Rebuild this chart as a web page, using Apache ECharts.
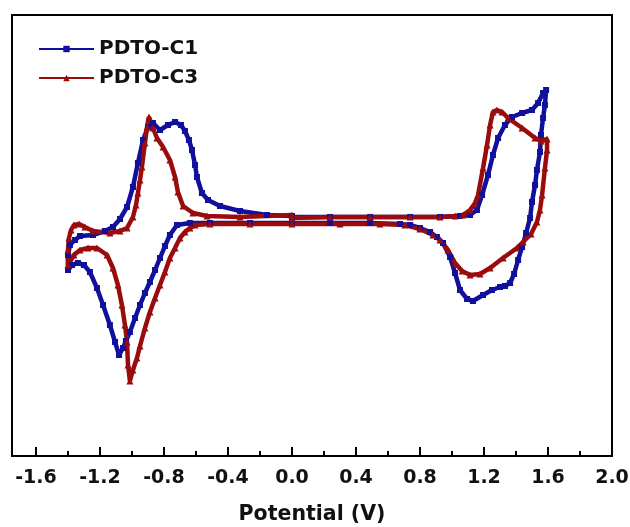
<!DOCTYPE html>
<html>
<head>
<meta charset="utf-8">
<script src="https://cdn.jsdelivr.net/npm/echarts@6/dist/echarts.min.js"></script>
<style>
  html, body { margin: 0; padding: 0; background: #fff; }
  #chart { width: 630px; height: 527px; }
</style>
</head>
<body>
<div id="chart"></div>
<script>
// Cyclic voltammograms: one closed sweep each, 0 V -> 1.6 V -> -1.4 V -> 0 V
const seriesNames = ['PDTO-C1', 'PDTO-C3'];

const c1Potential = [
  0.000, 0.238, 0.488, 0.738, 0.925, 1.050, 1.113, 1.156, 1.188, 1.225,
  1.256, 1.288, 1.331, 1.375, 1.438, 1.500, 1.538, 1.569, 1.588,
  1.581, 1.569, 1.556, 1.550, 1.531, 1.519, 1.500, 1.488, 1.463, 1.438,
  1.413, 1.388, 1.363, 1.331, 1.300, 1.250, 1.194, 1.131, 1.094, 1.050,
  1.019, 0.988, 0.944, 0.906, 0.863, 0.800, 0.738, 0.675, 0.488, 0.238,
  0.000, -0.263, -0.513, -0.638,
  -0.719, -0.763, -0.794, -0.825, -0.856, -0.888, -0.919, -0.950, -0.981, -1.013,
  -1.038, -1.056, -1.081, -1.106, -1.138, -1.181, -1.219, -1.263, -1.300, -1.338,
  -1.375, -1.400,
  -1.400, -1.388, -1.356, -1.325, -1.244, -1.169, -1.119, -1.075, -1.031, -0.994,
  -0.963, -0.931, -0.900, -0.869, -0.825, -0.775, -0.731, -0.694, -0.669, -0.644,
  -0.625, -0.606, -0.594, -0.563, -0.525, -0.450, -0.325, -0.156, 0.000
];
const c1Current = [
  0.15, 0.15, 0.15, 0.15, 0.15, 0.20, 0.25, 0.50, 1.25, 2.25,
  3.25, 4.10, 4.75, 5.15, 5.35, 5.50, 5.85, 6.35, 6.50,
  5.75, 5.10, 4.25, 3.40, 2.50, 1.75, 0.90, 0.10, -0.65, -1.35,
  -2.00, -2.70, -3.15, -3.30, -3.35, -3.50, -3.75, -4.05, -3.95, -3.50,
  -2.65, -1.85, -1.15, -0.85, -0.60, -0.40, -0.25, -0.20, -0.15, -0.15,
  -0.15, -0.15, -0.15, -0.15,
  -0.25, -0.75, -1.30, -1.90, -2.50, -3.10, -3.65, -4.25, -4.90, -5.60,
  -6.05, -6.40, -6.75, -6.10, -5.25, -4.25, -3.40, -2.60, -2.25, -2.15,
  -2.25, -2.50,
  -1.75, -1.25, -1.00, -0.80, -0.75, -0.55, -0.35, 0.05, 0.65, 1.65,
  2.85, 4.00, 4.65, 4.85, 4.50, 4.75, 4.90, 4.75, 4.45, 4.00,
  3.50, 2.75, 2.15, 1.35, 1.00, 0.70, 0.45, 0.25, 0.20
];

const c3Potential = [
  0.000, 0.238, 0.488, 0.738, 0.925, 1.019, 1.069, 1.113, 1.144, 1.163,
  1.194, 1.219, 1.238, 1.256, 1.281, 1.313, 1.350, 1.438, 1.519, 1.556,
  1.594,
  1.594, 1.581, 1.563, 1.550, 1.531, 1.494, 1.444, 1.406, 1.319, 1.238,
  1.175, 1.113, 1.063, 1.019, 0.975, 0.925, 0.881, 0.800, 0.706, 0.550,
  0.300, 0.000, -0.263, -0.513, -0.606, -0.638, -0.669, -0.700, -0.731, -0.763,
  -0.794, -0.825, -0.856, -0.888, -0.919, -0.950, -0.969, -0.994, -1.013,
  -1.025, -1.031, -1.044, -1.063, -1.088, -1.119, -1.156, -1.219, -1.275, -1.325,
  -1.363, -1.400,
  -1.400, -1.394, -1.381, -1.363, -1.331, -1.294, -1.244, -1.138, -1.075, -1.031,
  -0.994, -0.975, -0.963, -0.950, -0.938, -0.919, -0.906, -0.894, -0.869, -0.844,
  -0.806, -0.763, -0.731, -0.713, -0.681, -0.619, -0.531, -0.325, 0.000
];
const c3Current = [
  0.10, 0.15, 0.15, 0.15, 0.15, 0.20, 0.25, 0.50, 0.85, 1.25,
  2.60, 3.75, 4.75, 5.40, 5.50, 5.40, 5.10, 4.60, 4.10, 3.95,
  4.05,
  3.50, 2.60, 1.25, 0.50, -0.10, -0.70, -1.10, -1.40, -1.90, -2.40,
  -2.70, -2.75, -2.55, -2.15, -1.50, -1.00, -0.75, -0.45, -0.25, -0.20,
  -0.20, -0.20, -0.20, -0.20, -0.25, -0.40, -0.60, -0.90, -1.40, -1.90,
  -2.60, -3.25, -3.90, -4.60, -5.40, -6.30, -6.90, -7.50, -8.05,
  -7.25, -6.10, -5.25, -4.25, -3.25, -2.40, -1.75, -1.40, -1.40, -1.50,
  -1.75, -2.25,
  -1.50, -0.90, -0.50, -0.25, -0.20, -0.35, -0.55, -0.65, -0.55, -0.40,
  0.15, 0.75, 1.35, 2.00, 2.65, 3.85, 4.65, 5.15, 4.60, 4.10,
  3.65, 3.00, 2.15, 1.40, 0.70, 0.35, 0.20, 0.15, 0.25
];

const majorTicks = [-1.6, -1.2, -0.8, -0.4, 0.0, 0.4, 0.8, 1.2, 1.6, 2.0];
const minorTicks = [-1.4, -1.0, -0.6, -0.2, 0.2, 0.6, 1.0, 1.4, 1.8];

const pairs = (xs, ys) => xs.map((x, i) => [x, ys[i]]);

const chart = echarts.init(document.getElementById('chart'), null, { renderer: 'canvas' });

const fontFamily = '"DejaVu Sans", "Liberation Sans", Arial, sans-serif';
const blue = '#10109c';
const red = '#9a0c0c';

chart.setOption({
  animation: false,
  backgroundColor: '#fff',
  grid: {
    left: 12, right: 18, top: 15, bottom: 71,
    outerBoundsMode: 'none',
    show: true, borderColor: '#000', borderWidth: 2, backgroundColor: 'transparent'
  },
  legend: {
    left: 38, top: 39, orient: 'vertical', padding: 0,
    itemWidth: 55, itemHeight: 8, itemGap: 9,
    textStyle: { fontFamily, fontWeight: 'bold', fontSize: 20, color: '#111' },
    lineStyle: { width: 2 },
    data: seriesNames
  },
  xAxis: [
    {
      type: 'value', min: -1.75, max: 2.0,
      name: 'Potential (V)', nameLocation: 'middle', nameGap: 48,
      nameTextStyle: { fontFamily, fontWeight: 'bold', fontSize: 20.5, color: '#111' },
      axisLine: { show: true, onZero: false, lineStyle: { color: '#000', width: 2 } },
      axisTick: { show: true, inside: true, length: 9, customValues: majorTicks, lineStyle: { color: '#000', width: 2 } },
      axisLabel: {
        show: true, customValues: majorTicks, margin: 13,
        fontFamily, fontWeight: 'bold', fontSize: 19, color: '#111',
        formatter: v => v.toFixed(1)
      },
      splitLine: { show: false }
    },
    {
      type: 'value', min: -1.75, max: 2.0, position: 'bottom',
      axisLine: { show: false, onZero: false },
      axisTick: { show: true, inside: true, length: 5, customValues: minorTicks, lineStyle: { color: '#000', width: 2 } },
      axisLabel: { show: false },
      splitLine: { show: false }
    }
  ],
  yAxis: {
    type: 'value', min: -11.8, max: 10.25,
    axisLine: { show: true, onZero: false, lineStyle: { color: '#000', width: 2 } },
    axisTick: { show: false },
    axisLabel: { show: false },
    splitLine: { show: false }
  },
  series: [
    {
      name: seriesNames[0], type: 'line', xAxisIndex: 0,
      data: pairs(c1Potential, c1Current),
      color: blue,
      lineStyle: { width: 4.5, color: blue },
      symbol: 'rect', symbolSize: 6, showSymbol: true,
      itemStyle: { color: blue }
    },
    {
      name: seriesNames[1], type: 'line', xAxisIndex: 0,
      data: pairs(c3Potential, c3Current),
      color: red,
      lineStyle: { width: 4.5, color: red },
      symbol: 'triangle', symbolSize: 7, showSymbol: true,
      itemStyle: { color: red }
    }
  ]
});
</script>
</body>
</html>
